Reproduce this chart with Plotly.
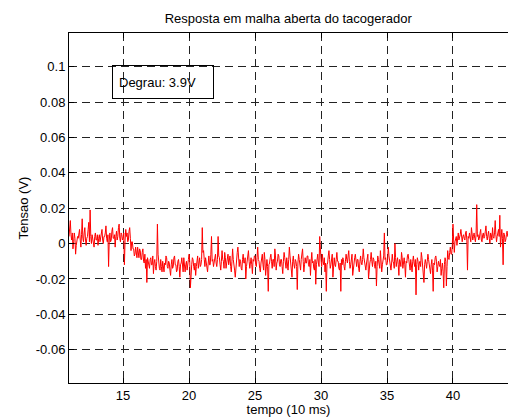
import plotly.graph_objects as go

# ---- data ----
t_inicio = 10.9      # first sample time (10 ms units)
t_passo = 0.05       # sample spacing
# voltage readings in millivolts, one row per time unit
tensao_mV = [
    4, 9,                                                                          # 10.90
    13, 5, 2, 6, -3, 1, 6, 3, -6, -1, 1, 4, 3, 7, 8, 2, -2, 5, 14, 3,              # 11
    1, 6, 9, 2, -1, 3, 4, 8, 12, 1, 19, 4, 0, 5, 3, -1, -2, 4, 6, 2,               # 12
    2, 5, -1, 3, 5, 1, 3, 7, 8, 2, 0, 4, 4, 6, 10, 3, 1, 5, -13, 2,                # 13
    6, 1, 2, 7, 9, 3, 3, 5, -2, 4, 7, 2, 4, 9, 11, 3, 1, 6, 5, 2,                  # 14
    3, 6, -12, 2, 8, 4, 6, 1, 2, 7, 9, 3, -4, 1, 1, -3, -3, -7, -6, -2,            # 15
    -5, -8, -2, -6, -8, -3, -4, -9, -9, -5, -3, -10, -11, -6, -14, -9, -22, -8, -10, -13,   # 16
    -14, -9, -8, -12, -12, -7, -17, -11, -9, -13, -15, -10, 11, -6, -11, -14, -15, -9, -13, -16,  # 17
    -10, -14, -16, -11, -12, -7, -8, -13, -14, -10, -11, -15, -18, -12, -9, -14, -13, -8, -7, -12,  # 18
    -12, -16, -15, -10, -9, -13, -19, -12, -11, -8, -14, -16, -8, -11, -16, -12, -10, -15, -13, -9,  # 19
    -6, -10, -25, -14, -12, -8, -9, -13, -15, -11, -18, -13, -11, -7, -14, -10, -8, -13, -12, -9,   # 20
    9, -5, -4, -9, -13, -8, -10, -14, -16, -11, -7, -12, -12, -6, 4, -10, -9, -13, -11, -7,         # 21
    -6, -11, -13, -9, 4, -7, -8, -12, -15, -10, -4, -9, -10, -14, -5, -8, -14, -11, -9, -6,         # 22
    -12, -8, -7, -13, -16, -10, -3, -9, -11, -15, -19, -12, -8, -5, -2, -10, -13, -9, -10, -14,     # 23
    -15, -9, -6, -11, -11, -8, -20, -13, -9, -6, -4, -10, -14, -11, -8, -12, -17, -9, -10, -7,      # 24
    -7, -12, -13, -8, -2, -9, -10, -14, -16, -11, -8, -6, -12, -15, -5, -9, -18, -11, -9, -13,      # 25
    -27, -12, -11, -8, -6, -10, -14, -9, -9, -13, -3, -7, -15, -11, -10, -6, -7, -12, -13, -9,      # 26
    -9, -13, -17, -10, -5, -8, -12, -14, -8, -11, -15, -9, -2, -7, -11, -13, -19, -10, -7, -12,     # 27
    -14, -9, -10, -13, -26, -11, -6, -9, -12, -15, -9, -7, -3, -10, -16, -12, -8, -11, -11, -7,     # 28
    -7, -12, -13, -9, -18, -10, -5, -11, -10, -14, -15, -9, -23, -12, -8, -6, -11, -13, 4, -8,      # 29
    -9, -13, -6, -10, -12, -8, -16, -11, -27, -12, -11, -7, -4, -9, -14, -12, -10, -6, -19, -11,    # 30
    -8, -12, -13, -9, -5, -10, -10, -14, -15, -11, -27, -9, -12, -8, -9, -13, -15, -10, -6, -9,     # 31
    -11, -7, -4, -10, -14, -12, -8, -6, -18, -13, -10, -8, -6, -11, -13, -9, -9, -14, -16, -10,     # 32
    -7, -11, -12, -9, -3, -8, -10, -13, -15, -11, -8, -6, -20, -12, -11, -9, -5, -10, -13, -8,      # 33
    -9, -12, -14, -10, -24, -13, -7, -9, -11, -14, -4, -8, -16, -12, -10, -7, 6, -9, -8, -12,       # 34
    -12, -9, -2, -7, -9, -13, -15, -11, -6, -10, -11, -14, 0, -8, -13, -10, -8, -12, -18, -9,       # 35
    -10, -13, -5, -8, -14, -11, -8, -12, -19, -10, -11, -7, -6, -9, -13, -15, -9, -12, -16, -10,    # 36
    -7, -11, -13, -9, -29, -12, -8, -10, -15, -11, -10, -13, -5, -8, -13, -16, -22, -12, -9, -11,   # 37
    -14, -10, -6, -9, -11, -13, -17, -12, -9, -15, -27, -11, -12, -8, -7, -10, -16, -13, -10, -12,  # 38
    -13, -9, -18, -14, -11, -16, -25, -12, -8, -10, -24, -13, -4, -8, -9, -5, -2, -6, -6, -1,       # 39
    11, 2, -5, 1, 2, 4, -1, 3, 6, 2, 3, 5, 8, 2, 1, 4, 5, 3, 2, 6,                                  # 40
    7, 2, -15, 4, 3, 6, 4, 1, 9, 5, 2, 4, 6, 3, 1, 5, 22, 4, 5, 2,                                  # 41
    3, 6, 8, 2, 1, 5, 6, 3, 4, 7, 10, 4, 2, 5, 7, 3, 0, 6, 5, 2,                                    # 42
    9, 4, 3, 6, 13, 5, 1, 4, 6, 8, 4, 16, -2, 5, 8, 3, -12, 6, 5, 1,                                # 43
    2, 5, 7, 4, 4,                                                                                  # 44
]
tensao = [v / 1000.0 for v in tensao_mV]   # millivolts -> volts

x_ticks = [15, 20, 25, 30, 35, 40]
y_ticks = [-0.06, -0.04, -0.02, 0, 0.02, 0.04, 0.06, 0.08, 0.1]
y_tick_text = ["-0.06", "-0.04", "-0.02", "0", "0.02", "0.04", "0.06", "0.08", "0.1"]

titulo = "Resposta em malha aberta do tacogerador"
x_titulo = "tempo (10 ms)"
y_titulo = "Tensao (V)"
nota = "Degrau: 3.9V"

FONT = "Liberation Sans, Arial, Helvetica, sans-serif"

fig = go.Figure()
fig.add_trace(go.Scatter(
    x0=t_inicio, dx=t_passo, y=tensao, mode="lines",
    line=dict(color="#ff0000", width=1), showlegend=False,
))

axis_common = dict(
    showline=True, linecolor="black", linewidth=1,
    ticks="inside", ticklen=5, tickcolor="black", tickwidth=1,
    showgrid=True, gridcolor="#222222", gridwidth=1, griddash="8px,5px",
    zeroline=False, tickfont=dict(family=FONT, size=13, color="black"),
)

fig.update_layout(
    width=508, height=417,
    margin=dict(l=69, r=0, t=33, b=34),
    paper_bgcolor="white", plot_bgcolor="white",
    font=dict(family=FONT, size=13, color="black"),
    title=dict(text=titulo, x=0.5675, xanchor="center", y=0.955, yanchor="middle",
               font=dict(family=FONT, size=13, color="black")),
    xaxis=dict(range=[10.9, 44.17], tickvals=x_ticks, mirror="ticks",
               title=dict(text=x_titulo, standoff=2, font=dict(family=FONT, size=13)),
               **axis_common),
    yaxis=dict(range=[-0.0788, 0.119], tickvals=y_ticks, ticktext=y_tick_text,
               title=dict(text=y_titulo, standoff=4, font=dict(family=FONT, size=13)),
               **axis_common),
    annotations=[dict(
        x=14.16, y=0.101, xref="x", yref="y", xanchor="left", yanchor="top",
        text=nota, showarrow=False, align="left",
        width=88, height=20, borderpad=6,
        bordercolor="black", borderwidth=1, bgcolor="rgba(0,0,0,0)",
        font=dict(family=FONT, size=13, color="black"),
    )],
)

fig.write_html("out.html")
